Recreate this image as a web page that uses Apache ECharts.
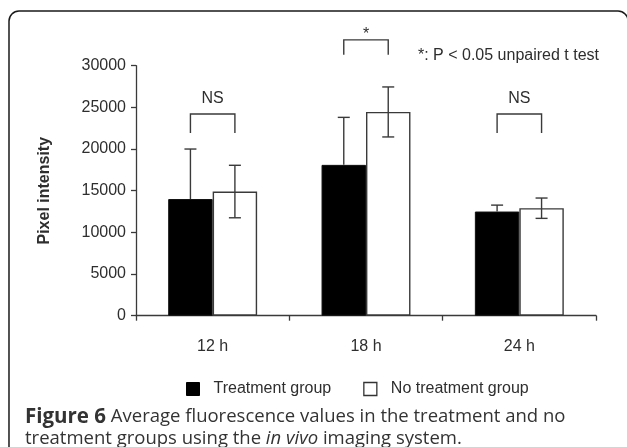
<!DOCTYPE html>
<html>
<head>
<meta charset="utf-8">
<script src="https://cdn.jsdelivr.net/npm/echarts@6/dist/echarts.min.js"></script>
<style>
html,body{margin:0;padding:0;background:#fff;}
#chart{width:627px;height:447px;}
</style>
</head>
<body>
<div id="chart"></div>
<script>
const categories = ['12 h', '18 h', '24 h'];
const treatment = [14000, 18100, 12500];
const treatmentErr = [6000, 5700, 770];
const noTreatment = [14900, 24450, 12900];
const noTreatmentErr = [3150, 3000, 1220];
const yTicks = [0, 5000, 10000, 15000, 20000, 25000, 30000];
const sigLabels = ['NS', '*', 'NS'];
const bracketTop = [24200, 33100, 24200];

const chart = echarts.init(document.getElementById('chart'), null, {renderer: 'canvas'});
const AX = '#3a3a3a';
const TXT = '#2e2e2e';
const FONT = '"Liberation Sans", Arial, sans-serif';
const FS = 16;
const OFF = 0.145;

function errRender(side, both) {
  return function (params, api) {
    const i = api.value(0), v = api.value(1), e = api.value(2);
    const band = api.size([1, 0])[0];
    const cx = api.coord([i, 0])[0] + band * OFF * side;
    const yTop = api.coord([i, v + e])[1];
    const yBot = api.coord([i, both ? v - e : v])[1];
    const cap = 6;
    const st = {stroke: AX, lineWidth: 1.4};
    const ch = [
      {type: 'line', shape: {x1: cx, y1: yTop, x2: cx, y2: yBot}, style: st},
      {type: 'line', shape: {x1: cx - cap, y1: yTop, x2: cx + cap, y2: yTop}, style: st}
    ];
    if (both) ch.push({type: 'line', shape: {x1: cx - cap, y1: yBot, x2: cx + cap, y2: yBot}, style: st});
    return {type: 'group', children: ch};
  };
}

function bracketRender(params, api) {
  const i = api.value(0), top = api.value(1);
  const lbl = sigLabels[params.dataIndex];
  const band = api.size([1, 0])[0];
  const c = api.coord([i, top]);
  const x1 = c[0] - band * OFF, x2 = c[0] + band * OFF;
  const y = c[1];
  const leg = lbl === '*' ? 15 : 19;
  const st = {stroke: AX, lineWidth: 1.4, fill: null};
  return {type: 'group', children: [
    {type: 'polyline', shape: {points: [[x1, y + leg], [x1, y], [x2, y], [x2, y + leg]]}, style: st},
    {type: 'text', style: {text: lbl, x: c[0], y: y - (lbl === '*' ? 5 : 15), align: 'center', verticalAlign: 'middle',
      font: FS + 'px ' + FONT, fill: TXT}}
  ]};
}

const option = {
  animation: false,
  grid: {left: 136, right: 31, top: 65.7, bottom: 131.3},
  xAxis: {
    type: 'category', data: categories,
    axisLine: {lineStyle: {color: AX, width: 1.3}},
    axisTick: {show: true, length: 5, lineStyle: {color: AX, width: 1.3}},
    axisLabel: {color: TXT, fontSize: FS, fontFamily: FONT, margin: 23}
  },
  yAxis: {
    type: 'value', min: 0, max: 30000, interval: 5000,
    name: 'Pixel intensity', nameLocation: 'middle', nameGap: 83,
    nameTextStyle: {color: TXT, fontSize: FS, fontWeight: 'bold', fontFamily: FONT},
    axisLine: {show: true, lineStyle: {color: AX, width: 1.3}},
    axisTick: {show: true, length: 5, lineStyle: {color: AX, width: 1.3}},
    axisLabel: {color: TXT, fontSize: FS, fontFamily: FONT, margin: 10,
      formatter: v => yTicks.includes(v) ? String(v) : ''},
    splitLine: {show: false}
  },
  legend: {
    left: 186, top: 381, padding: 0, itemWidth: 13, itemHeight: 13, itemGap: 32, icon: 'rect',
    textStyle: {color: TXT, fontSize: FS, fontFamily: FONT, padding: [0, 0, 0, 9]},
    data: [
      {name: 'Treatment group', itemStyle: {color: '#000', borderColor: '#000', borderWidth: 1}},
      {name: 'No treatment group', itemStyle: {color: '#fff', borderColor: '#333', borderWidth: 1.3}}
    ]
  },
  series: [
    {name: 'Treatment group', type: 'bar', data: treatment, barGap: '0%', barCategoryGap: '42%',
      itemStyle: {color: '#000', borderColor: '#111', borderWidth: 1}},
    {name: 'No treatment group', type: 'bar', data: noTreatment,
      itemStyle: {color: '#fff', borderColor: AX, borderWidth: 1.4}},
    {type: 'custom', renderItem: errRender(-1, false), z: 5, silent: true,
      data: treatment.map((v, i) => [i, v, treatmentErr[i]])},
    {type: 'custom', renderItem: errRender(1, true), z: 5, silent: true,
      data: noTreatment.map((v, i) => [i, v, noTreatmentErr[i]])},
    {type: 'custom', renderItem: bracketRender, z: 5, silent: true, clip: false,
      data: bracketTop.map((v, i) => [i, v])}
  ],
  graphic: [
    {type: 'rect', shape: {x: 9, y: 11, width: 619, height: 500, r: 10}, silent: true,
      style: {fill: null, stroke: '#1a1a1a', lineWidth: 1.5}},
    {type: 'text', left: 418, top: 48, silent: true,
      style: {text: '*: P < 0.05 unpaired t test', font: FS + 'px ' + FONT, fill: TXT}},
    {type: 'text', left: 25, top: 406, silent: true,
      style: {
        text: '{b|Figure 6} Average fluorescence values in the treatment and no\ntreatment groups using the {i|in vivo} imaging system.',
        font: '18.5px "Open Sans", sans-serif', fill: '#333', lineHeight: 21.5,
        rich: {
          b: {fontWeight: 'bold', fontFamily: '"Open Sans", sans-serif', fontSize: 20.5, fill: '#333', lineHeight: 21.5},
          i: {fontStyle: 'italic', fontFamily: '"Open Sans", sans-serif', fontSize: 18.5, fill: '#333', lineHeight: 21.5}
        }
      }}
  ]
};
chart.setOption(option);
</script>
</body>
</html>
